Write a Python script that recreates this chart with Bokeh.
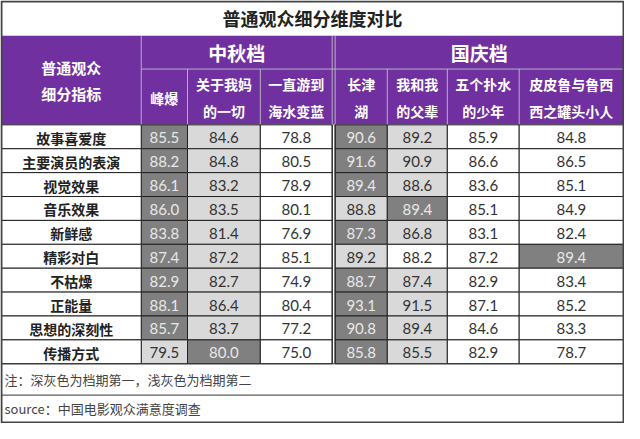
from bokeh.plotting import figure
from bokeh.models import Range1d, ColumnDataSource
from bokeh.core.properties import value
from bokeh.embed import file_html
from bokeh.resources import INLINE

title = "普通观众细分维度对比"
corner = ["普通观众", "细分指标"]
groups = ["中秋档", "国庆档"]
films = [["峰爆"], ["关于我妈", "的一切"], ["一直游到", "海水变蓝"],
         ["长津", "湖"], ["我和我", "的父辈"], ["五个扑水", "的少年"], ["皮皮鲁与鲁西", "西之罐头小人"]]
film_group = [0, 0, 0, 1, 1, 1, 1]
metrics = ["故事喜爱度", "主要演员的表演", "视觉效果", "音乐效果", "新鲜感",
           "精彩对白", "不枯燥", "正能量", "思想的深刻性", "传播方式"]
fengbao = [85.5, 88.2, 86.1, 86.0, 83.8, 87.4, 82.9, 88.1, 85.7, 79.5]
guanyu_wo_ma = [84.6, 84.8, 83.2, 83.5, 81.4, 87.2, 82.7, 86.4, 83.7, 80.0]
yizhi_you = [78.8, 80.5, 78.9, 80.1, 76.9, 85.1, 74.9, 80.4, 77.2, 75.0]
changjinhu = [90.6, 91.6, 89.4, 88.8, 87.3, 89.2, 88.7, 93.1, 90.8, 85.8]
wohewo = [89.2, 90.9, 88.6, 89.4, 86.8, 88.2, 87.4, 91.5, 89.4, 85.5]
wuge_pushui = [85.9, 86.6, 83.6, 85.1, 83.1, 87.2, 82.9, 87.1, 84.6, 82.9]
pipilu = [84.8, 86.5, 85.1, 84.9, 82.4, 89.4, 83.4, 85.2, 83.3, 78.7]
series = [fengbao, guanyu_wo_ma, yizhi_you, changjinhu, wohewo, wuge_pushui, pipilu]
note = "注：深灰色为档期第一，浅灰色为档期第二"
source_txt = "source：中国电影观众满意度调查"

# layout (reference pixel space)
XL, XR = 4, 636
col_l = [146, 193, 267, 343, 396, 457, 530]
col_r = [193, 267, 340, 396, 457, 530, 636]
Y_TITLE, Y_HEAD, Y_SUB, Y_DATA = 3, 38, 72, 129
ROW_H = 24.4
Y_NOTE = Y_DATA + ROW_H * len(metrics)
Y_SRC, Y_BOT = 405, 433

PURPLE = "#7030A0"
DARK = "#808080"
LIGHT = "#D9D9D9"
CJK = value("Noto Sans CJK SC")
NUM = value("Lato")

p = figure(width=624, height=423, x_range=Range1d(XL - 1, XR + 1), y_range=Range1d(Y_BOT + 1, Y_TITLE - 1),
           output_backend="svg", toolbar_location=None, min_border=0)
p.axis.visible = False
p.grid.visible = False
p.outline_line_color = None
p.background_fill_color = "white"

# purple header
p.quad(left=[XL], right=[XR], top=[Y_HEAD], bottom=[Y_DATA], fill_color=PURPLE, line_color=None)
# header lines
hx0 = [col_l[0], col_l[0], col_l[0], 340, 343]
hx1 = [XR, col_l[0], XR, 340, 343]
hy0 = [Y_SUB, Y_HEAD, Y_DATA, Y_HEAD, Y_HEAD]
hy1 = [Y_SUB, Y_DATA, Y_DATA, Y_DATA, Y_DATA]
p.segment(x0=hx0, y0=hy0, x1=hx1, y1=hy1, line_color="#b8b0c0", line_width=1)
p.segment(x0=col_l[1:3] + col_l[4:], y0=[Y_SUB] * 5, x1=col_l[1:3] + col_l[4:], y1=[Y_DATA] * 5,
          line_color="#b8b0c0", line_width=1)

# data cells
L, R, T, B, C, tx, ty, tt, tc = [], [], [], [], [], [], [], [], []
for j, vals in enumerate(series):
    g = film_group[j]
    members = [series[k] for k in range(len(series)) if film_group[k] == g]
    for i, v in enumerate(vals):
        ranked = sorted([m[i] for m in members], reverse=True)
        if v == ranked[0]:
            fc, col = DARK, "#e8e8e8"
        elif v == ranked[1]:
            fc, col = LIGHT, "#333333"
        else:
            fc, col = "white", "#333333"
        top = Y_DATA + i * ROW_H
        L.append(col_l[j]); R.append(col_r[j]); T.append(top); B.append(top + ROW_H); C.append(fc)
        tx.append((col_l[j] + col_r[j]) / 2); ty.append(top + ROW_H / 2 + 1); tt.append(f"{v:.1f}"); tc.append(col)
src = ColumnDataSource(dict(l=L, r=R, t=T, b=B, c=C))
p.quad(left="l", right="r", top="t", bottom="b", fill_color="c", line_color="#222222", line_width=1, source=src)
p.text(x=tx, y=ty, text=tt, text_color=tc, text_font=NUM, text_font_size="15px",
       text_align="center", text_baseline="middle")

# label column
p.quad(left=[XL] * len(metrics), right=[col_l[0]] * len(metrics),
       top=[Y_DATA + i * ROW_H for i in range(len(metrics))],
       bottom=[Y_DATA + (i + 1) * ROW_H for i in range(len(metrics))],
       fill_color="white", line_color="#222222", line_width=1)
p.text(x=[(XL + col_l[0]) / 2] * len(metrics), y=[Y_DATA + (i + 0.5) * ROW_H + 1 for i in range(len(metrics))],
       text=metrics, text_font=CJK, text_font_style="bold", text_font_size="14px", text_color="#222222",
       text_align="center", text_baseline="middle")

# double line separator in data area
p.segment(x0=[340, 343], y0=[Y_DATA] * 2, x1=[340, 343], y1=[Y_NOTE] * 2, line_color="#222222", line_width=1)

# header texts
p.text(x=[(XL + col_l[0]) / 2] * 2, y=[70, 97], text=corner, text_font=CJK, text_font_style="bold",
       text_font_size="15px", text_color="white", text_align="center", text_baseline="middle")
p.text(x=[(col_l[0] + 340) / 2, (343 + XR) / 2], y=[55, 55], text=groups, text_font=CJK, text_font_style="bold",
       text_font_size="19px", text_color="white", text_align="center", text_baseline="middle")
fx, fy, ft = [], [], []
for j, lines in enumerate(films):
    cx = (col_l[j] + col_r[j]) / 2
    if len(lines) == 1:
        fx.append(cx); fy.append((Y_SUB + Y_DATA) / 2 + 1); ft.append(lines[0])
    else:
        fx += [cx, cx]; fy += [87, 115]; ft += lines
p.text(x=fx, y=fy, text=ft, text_font=CJK, text_font_style="bold", text_font_size="14px", text_color="white",
       text_align="center", text_baseline="middle")

# title
p.text(x=[(XL + XR) / 2], y=[20], text=[title], text_font=CJK, text_font_style="bold", text_font_size="18px",
       text_color="#222222", text_align="center", text_baseline="middle")

# note and source
p.segment(x0=[XL, XL], y0=[Y_NOTE, Y_SRC], x1=[XR, XR], y1=[Y_NOTE, Y_SRC], line_color="#333333", line_width=1)
p.text(x=[XL + 3, XL + 3], y=[(Y_NOTE + Y_SRC) / 2, (Y_SRC + Y_BOT) / 2], text=[note, source_txt],
       text_font=CJK, text_font_size="13px", text_color="#444444", text_align="left", text_baseline="middle")

# outer border
p.quad(left=[XL], right=[XR], top=[Y_TITLE], bottom=[Y_BOT], fill_color=None, line_color="#444444", line_width=2)

open("out.html", "w").write(file_html(p, INLINE))
